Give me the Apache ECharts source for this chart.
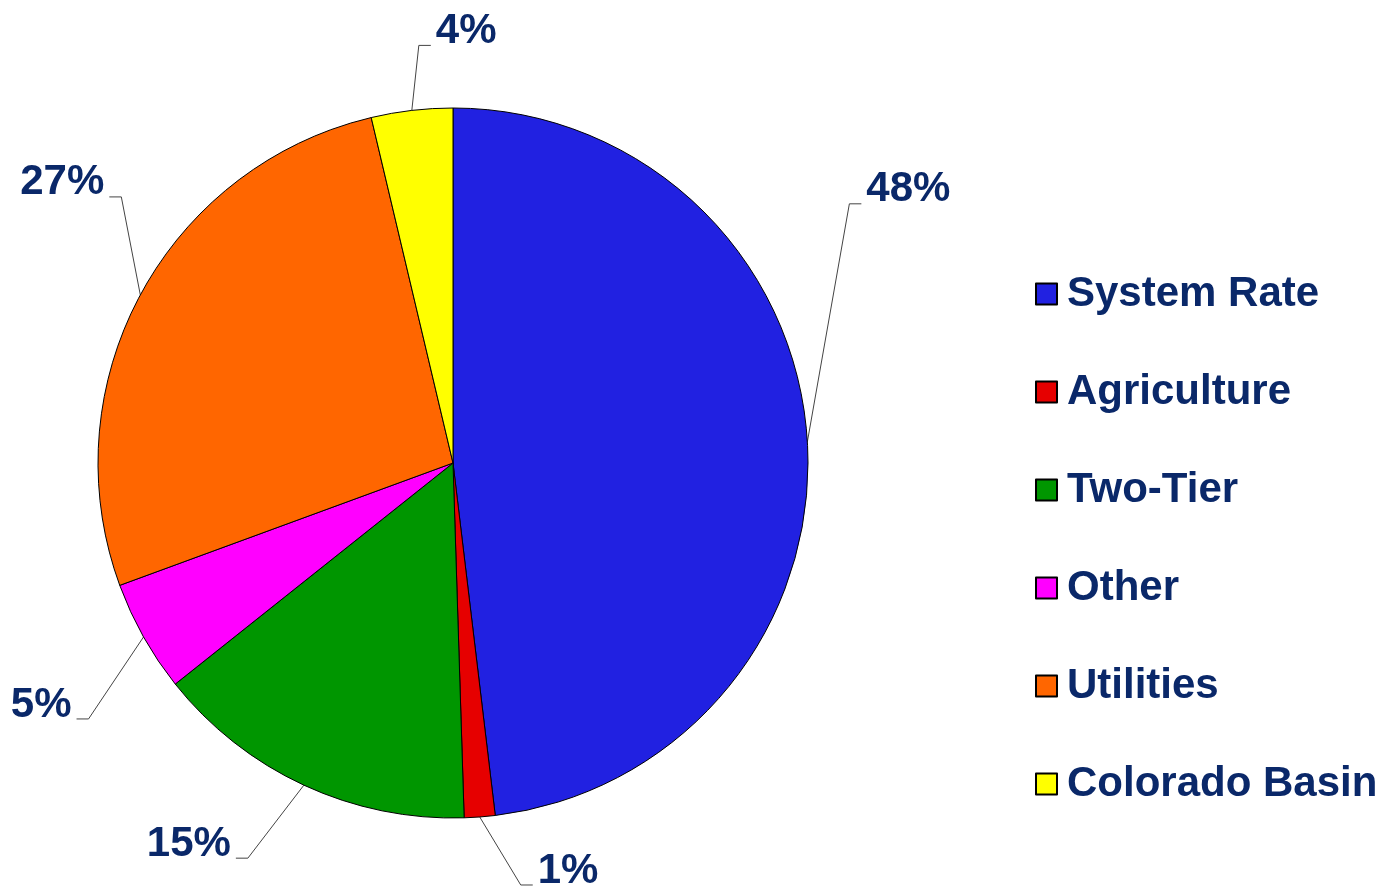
<!DOCTYPE html>
<html>
<head>
<meta charset="utf-8">
<script src="https://cdn.jsdelivr.net/npm/echarts@6/dist/echarts.min.js"></script>
<style>
html,body{margin:0;padding:0;background:#fff;}
#chart{width:1386px;height:888px;}
</style>
</head>
<body>
<div id="chart"></div>
<script>
const categories = ['System Rate', 'Agriculture', 'Two-Tier', 'Other', 'Utilities', 'Colorado Basin'];
const values = [48.1, 1.4, 14.8, 5.1, 26.9, 3.7];
const colors = ['#2121e1', '#e60000', '#009600', '#ff00ff', '#ff6600', '#ffff00'];

// leader-line elbow offsets relative to each slice's edge anchor, and side of the label
const elbowOffsets = [[42, -238, 1], [41, 68, 1], [-56, 73, -1], [-55, 82, -1], [-19, -98, -1], [7, -65, 1]];

const textColor = '#0a2869';
const chart = echarts.init(document.getElementById('chart'));
chart.setOption({
  backgroundColor: '#ffffff',
  animation: false,
  legend: {
    orient: 'vertical',
    left: 1030,
    top: 268,
    padding: 5,
    itemWidth: 21,
    itemHeight: 21,
    itemGap: 56,
    icon: 'rect',
    textStyle: {
      fontFamily: 'Liberation Sans, Arial, sans-serif',
      fontWeight: 'bold',
      fontSize: 42,
      color: textColor,
      lineHeight: 40,
      padding: [0, 0, 0, 5]
    },
    data: categories
  },
  series: [{
    type: 'pie',
    center: [453, 463],
    radius: 355,
    startAngle: 90,
    clockwise: true,
    itemStyle: { borderColor: '#000', borderWidth: 1 },
    label: {
      show: true,
      position: 'outside',
      fontFamily: 'Liberation Sans, Arial, sans-serif',
      fontWeight: 'bold',
      fontSize: 42,
      color: textColor,
      formatter: function (p) { return Math.round(p.percent) + '%'; }
    },
    labelLine: {
      show: true,
      length: 20,
      length2: 12,
      lineStyle: { color: '#444', width: 1 }
    },
    labelLayout: function (params) {
      const i = params.dataIndex;
      const o = elbowOffsets[i];
      const a = params.labelLinePoints[0];
      const ex = a[0] + o[0], ey = a[1] + o[1];
      const endX = ex + o[2] * 12;
      return {
        x: endX + o[2] * 5,
        y: ey - 14,
        align: o[2] > 0 ? 'left' : 'right',
        verticalAlign: 'middle',
        labelLinePoints: [[a[0], a[1]], [ex, ey], [endX, ey]]
      };
    },
    emphasis: { disabled: true },
    data: categories.map(function (c, i) {
      return { name: c, value: values[i], itemStyle: { color: colors[i] } };
    })
  }]
});
</script>
</body>
</html>
